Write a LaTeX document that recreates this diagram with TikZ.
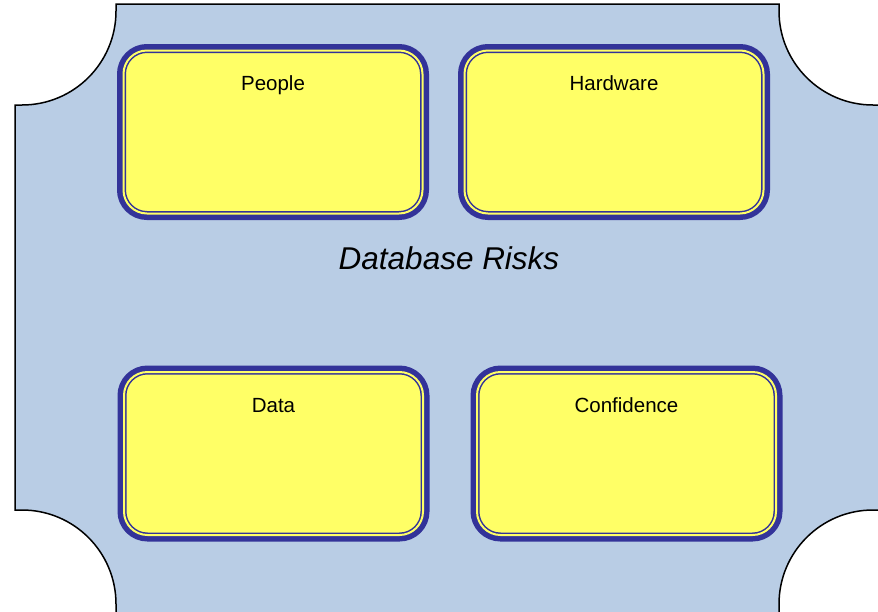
\documentclass[tikz,border=0pt]{standalone}
\usepackage{fontspec}
\setmainfont{Liberation Sans}
\definecolor{plaque}{RGB}{185,205,229}
\definecolor{frame}{RGB}{51,51,153}
\definecolor{pad}{RGB}{255,255,102}
\begin{document}
\begin{tikzpicture}[x=1pt,y=1pt,
  riskbox/.style={rectangle, rounded corners=23.5pt, inner sep=0pt,
    minimum width=299pt, minimum height=163pt,
    fill=pad, draw=frame, line width=5pt,
    preaction={draw=frame, line width=13pt},
    postaction={draw=pad, line width=2pt}},
  boxlabel/.style={anchor=base, inner sep=0pt, text=black,
    font=\fontsize{20.5}{24}\selectfont},
  heading/.style={anchor=base, inner sep=0pt, text=black,
    font=\fontsize{31.5}{37}\selectfont\itshape}]
\useasboundingbox (0,0) rectangle (878,-611);

% plaque with concave corners
\begin{scope}
  \clip (0,0) rectangle (878,-611);
  \draw[fill=plaque, line width=1.5pt, line join=miter]
    (15,-105) -- (22,-105) arc[start angle=-90, end angle=0, radius=94]
    -- (116,-4) -- (779,-4) -- (779,-11)
    arc[start angle=180, end angle=270, radius=94]
    -- (885,-105) -- (885,-510) -- (873,-510)
    arc[start angle=90, end angle=180, radius=94]
    -- (779,-615) -- (116,-615) -- (116,-604)
    arc[start angle=0, end angle=90, radius=94]
    -- (15,-510) -- cycle;
\end{scope}

% four risk areas
\node[riskbox] (people)     at (273,-132)     {};
\node[riskbox] (hardware)   at (614,-132)     {};
\node[riskbox] (data)       at (273.5,-453.5) {};
\node[riskbox] (confidence) at (626.5,-453.5) {};

\node[boxlabel] (people-t)     at ([yshift=-42.5pt]people.north)     {People};
\node[boxlabel] (hardware-t)   at ([yshift=-42.5pt]hardware.north)   {Hardware};
\node[boxlabel] (data-t)       at ([yshift=-42.5pt]data.north)       {Data};
\node[boxlabel] (confidence-t) at ([yshift=-42.5pt]confidence.north) {Confidence};

\node[heading] (risks) at (449,-269) {Database Risks};
\end{tikzpicture}
\end{document}
